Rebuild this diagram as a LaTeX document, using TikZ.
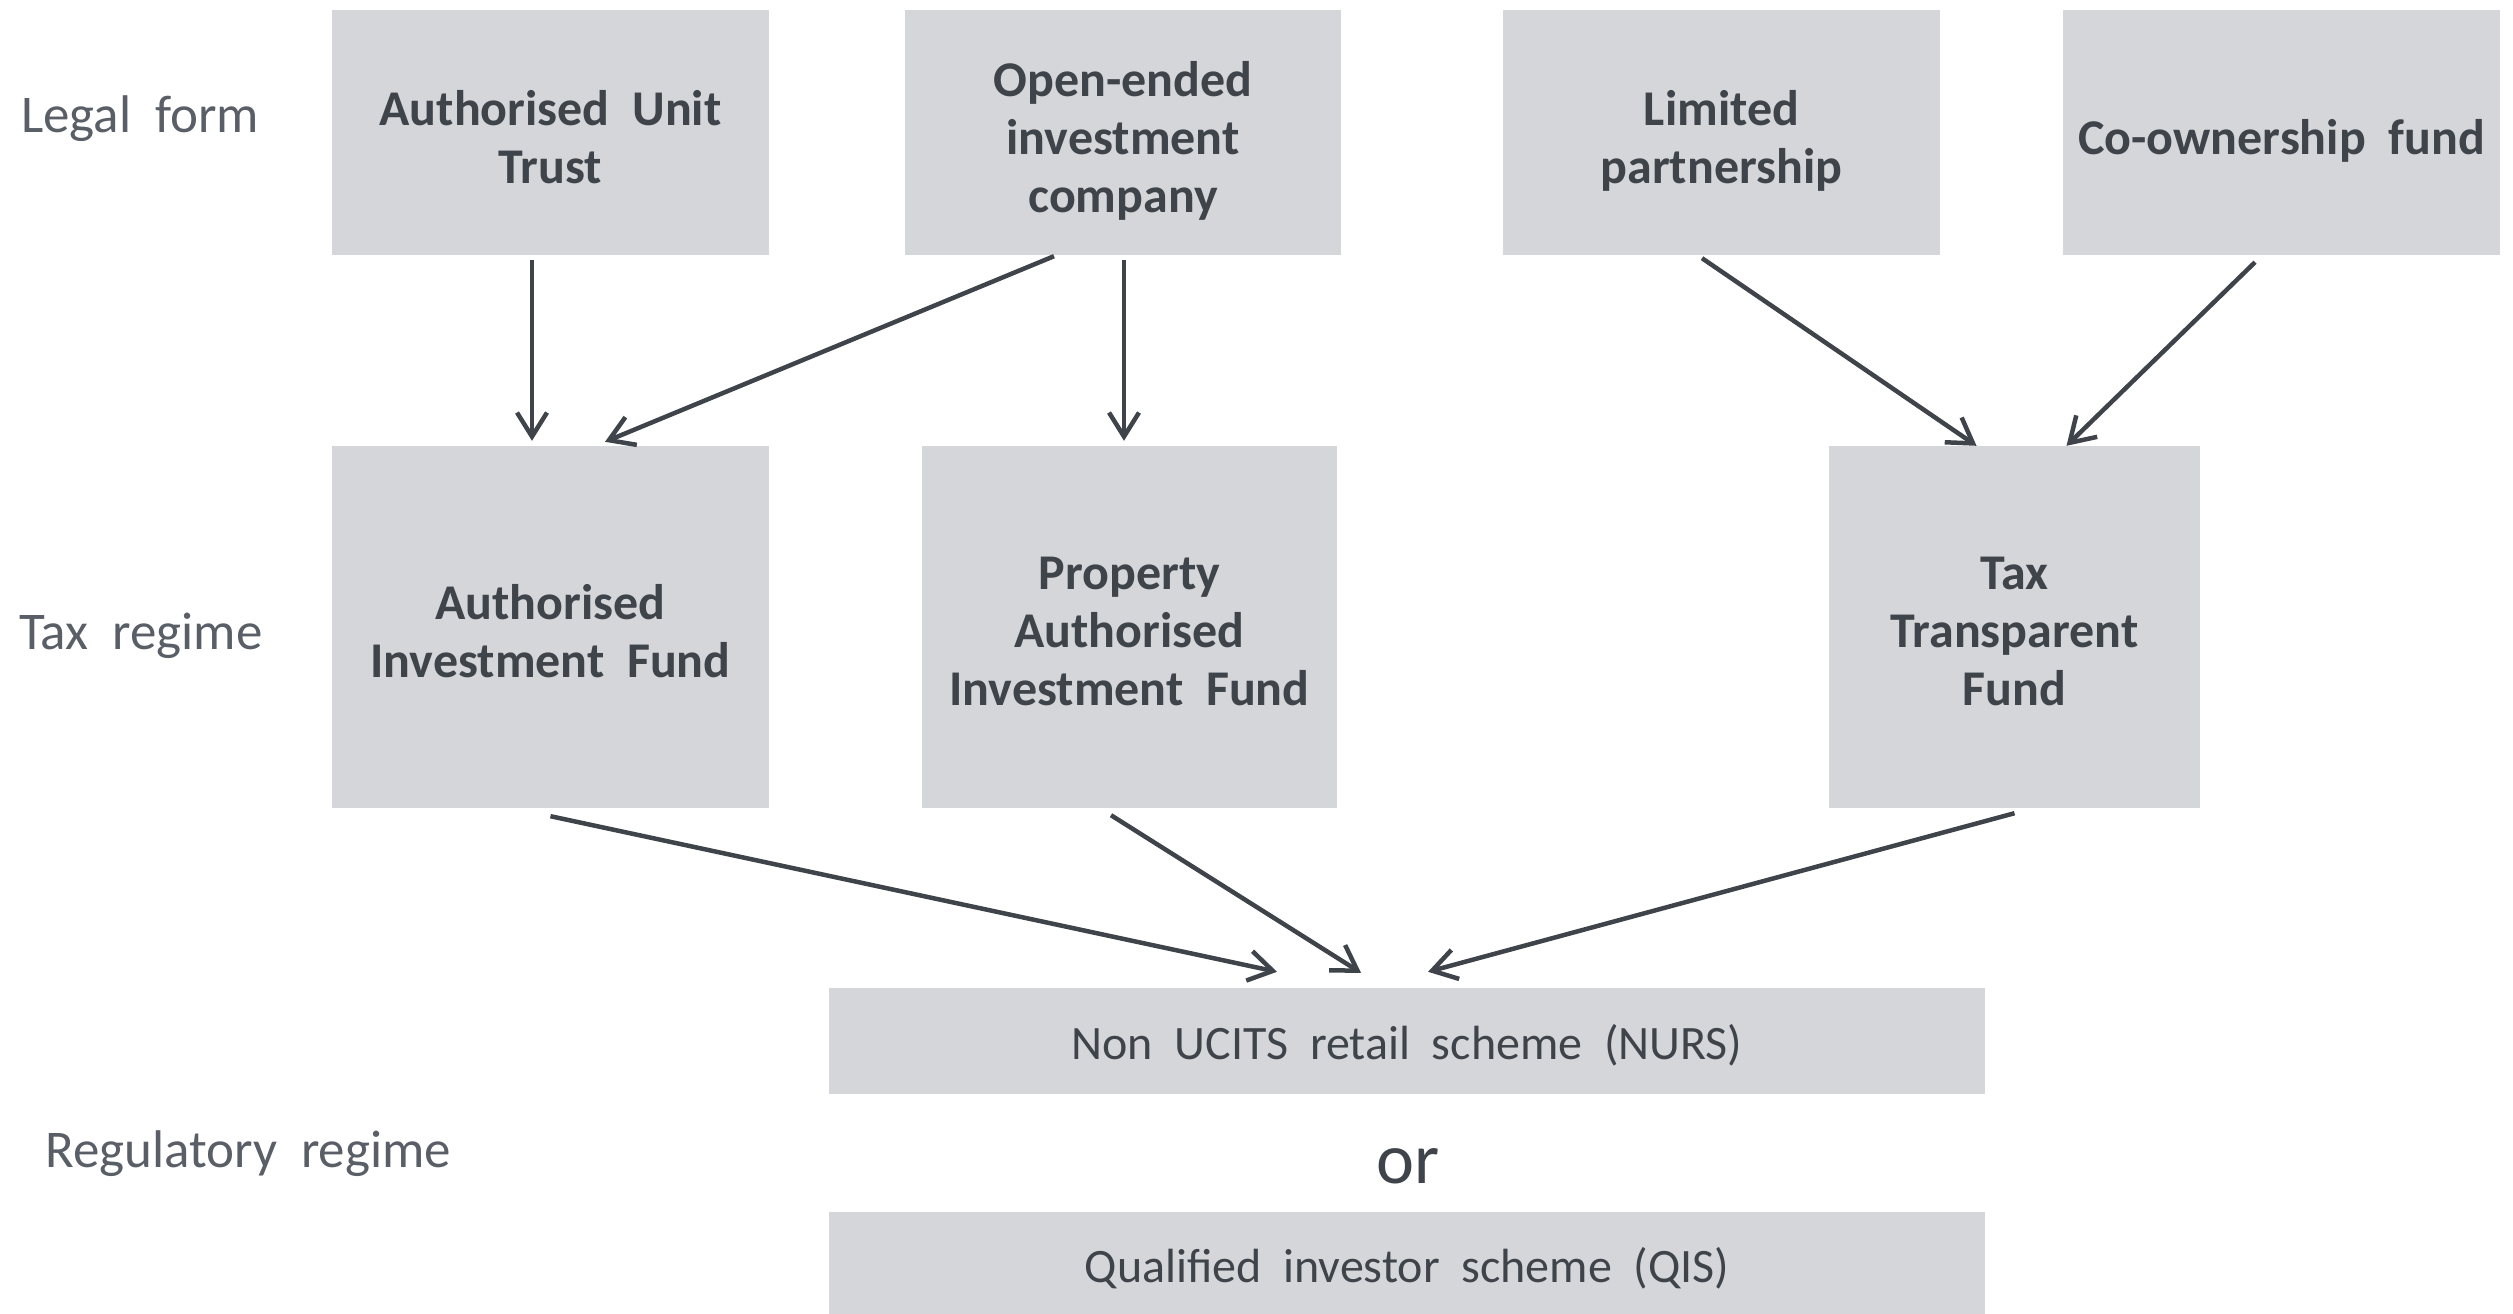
\documentclass[tikz,border=0pt]{standalone}
\usepackage{fontspec}
\setmainfont{Carlito}[WordSpace=2]
\usetikzlibrary{arrows.meta}
\definecolor{boxfill}{HTML}{D5D6DA}
\definecolor{ink}{HTML}{3F444A}
\definecolor{lab}{HTML}{5A5F67}
\begin{document}
\begin{tikzpicture}[x=1pt,y=-1pt,
  fundbox/.style={fill=boxfill, inner sep=0pt},
  fundtext/.style={inner sep=0pt, align=center, text=ink, text depth=0pt,
    font=\fontsize{50}{58}\selectfont\bfseries},
  regbox/.style={fill=boxfill, inner sep=0pt, text=ink,
    font=\fontsize{48}{56}\selectfont, minimum width=1156pt,
    text height=36pt, text depth=0pt},
  rowlabel/.style={anchor=base west, inner sep=0pt, text=lab,
    font=\fontsize{53}{60}\selectfont},
  conn/.style={draw=ink, line width=4.5pt,
    -{Straight Barb[length=24pt,width=30pt,line width=4.5pt]}}]
\useasboundingbox (0,0) rectangle (2513,1314);
% top row: legal form
\node[fundbox, minimum width=437pt, minimum height=245pt] (aut) at (550.5,132.5) {};
\node[fundbox, minimum width=436pt, minimum height=245pt] (oeic) at (1123,132.5) {};
\node[fundbox, minimum width=437pt, minimum height=245pt] (lp) at (1721.5,132.5) {};
\node[fundbox, minimum width=437pt, minimum height=245pt] (cof) at (2281.5,132.5) {};
\node[fundtext] (autT) at ([yshift=-4pt]aut.center) {Authorised Unit\\Trust};
\node[fundtext] (oeicT) at ([yshift=-4pt]oeic.center) {Open-ended\\investment\\company};
\node[fundtext] (lpT) at ([yshift=-4pt]lp.center) {Limited\\partnership};
\node[fundtext] (cofT) at ([yshift=-4pt]cof.center) {Co-ownership fund};
% middle row: tax regime
\node[fundbox, minimum width=437pt, minimum height=362pt] (aif) at (550.5,627) {};
\node[fundbox, minimum width=415pt, minimum height=362pt] (paif) at (1129.5,627) {};
\node[fundbox, minimum width=371pt, minimum height=362pt] (ttf) at (2014.5,627) {};
\node[fundtext] (aifT) at ([yshift=-4pt]aif.center) {Authorised\\Investment Fund};
\node[fundtext] (paifT) at ([yshift=-4pt]paif.center) {Property\\Authorised\\Investment Fund};
\node[fundtext] (ttfT) at ([yshift=-4pt]ttf.center) {Tax\\Transparent\\Fund};
% bottom: regulatory regime
\node[regbox, minimum height=106pt] (nurs) at (1407,1041) {Non UCITS retail scheme (NURS)};
\node[regbox, minimum height=105pt] (qis) at (1407,1264.5) {Qualified investor scheme (QIS)};
\node[anchor=base, inner sep=0pt, text=ink, font=\fontsize{72}{80}\selectfont] (or) at (1408,1183) {or};
% row labels
\node[rowlabel] (lf) at (21,132) {Legal form};
\node[rowlabel] (tr) at (19,649) {Tax regime};
\node[rowlabel] (rr) at (45,1167) {Regulatory regime};
% connectors
\draw[conn] ([shift={(-18.5,5)}]aut.south) -- ([shift={(-18.5,-5)}]aif.north);
\draw[conn] ([shift={(-69,1)}]oeic.south) -- ([shift={(54.5,-4)}]aif.north);
\draw[conn] ([shift={(1,5)}]oeic.south) -- ([shift={(-5.5,-5)}]paif.north);
\draw[conn] ([shift={(-19.5,3)}]lp.south) -- ([shift={(-38,0)}]ttf.north);
\draw[conn] ([shift={(-26.5,7)}]cof.south) -- ([shift={(52,0)}]ttf.north);
\draw[conn] ([shift={(0,8)}]aif.south) -- ([shift={(-130,-16)}]nurs.north);
\draw[conn] ([shift={(-18.5,7)}]paif.south) -- ([shift={(-46,-15)}]nurs.north);
\draw[conn] ([shift={(0,5)}]ttf.south) -- ([shift={(21,-16)}]nurs.north);
\end{tikzpicture}
\end{document}
